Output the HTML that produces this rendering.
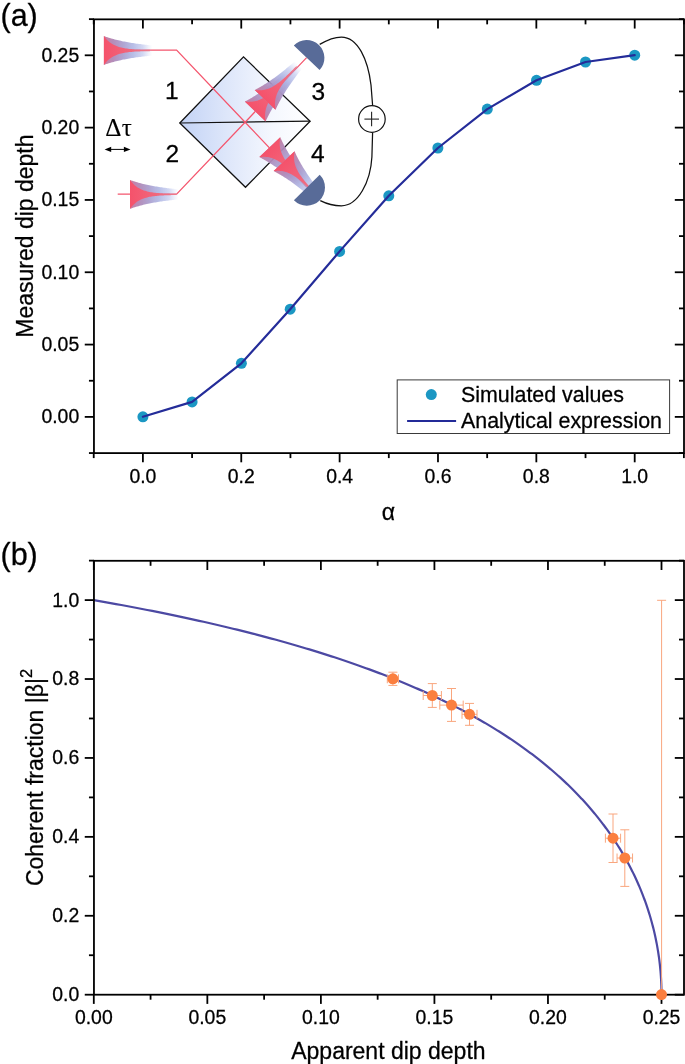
<!DOCTYPE html>
<html><head><meta charset="utf-8"><title>Figure</title>
<style>html,body{margin:0;padding:0;background:#fff;}svg{display:block;will-change:transform;}text{font-kerning:normal;stroke:#000;stroke-width:0.28px;stroke-linejoin:round;}</style>
</head><body>
<svg width="685" height="1064" viewBox="0 0 685 1064">
<defs>
<linearGradient id="bsg" gradientUnits="userSpaceOnUse" x1="180" y1="0" x2="310" y2="0">
 <stop offset="0" stop-color="#c3d3f6"/><stop offset="0.35" stop-color="#dde6fa"/><stop offset="0.7" stop-color="#f4f7fe"/><stop offset="1" stop-color="#ffffff"/>
</linearGradient>
<linearGradient id="hout" gradientUnits="userSpaceOnUse" x1="0" y1="0" x2="48.5" y2="0">
 <stop offset="0" stop-color="#c87da0" stop-opacity="1"/>
 <stop offset="0.2" stop-color="#b089b8" stop-opacity="0.95"/>
 <stop offset="0.4" stop-color="#a79bcd" stop-opacity="0.9"/>
 <stop offset="0.6" stop-color="#a0a8de" stop-opacity="0.75"/>
 <stop offset="0.8" stop-color="#a5b0e6" stop-opacity="0.5"/>
 <stop offset="0.93" stop-color="#aab6ea" stop-opacity="0.15"/>
 <stop offset="1" stop-color="#aab6ea" stop-opacity="0"/>
</linearGradient>
<linearGradient id="hin" gradientUnits="userSpaceOnUse" x1="0" y1="0" x2="46" y2="0">
 <stop offset="0" stop-color="#f5526b"/>
 <stop offset="0.5" stop-color="#f1647a"/>
 <stop offset="1" stop-color="#ee7a8c"/>
</linearGradient>

<g id="horn"><path d="M0,-14.4 L1.21,-13.98 L2.42,-13.57 L3.64,-13.18 L4.85,-12.8 L6.06,-12.43 L7.28,-12.07 L8.49,-11.73 L9.7,-11.4 L10.91,-11.08 L12.12,-10.77 L13.34,-10.47 L14.55,-10.18 L15.76,-9.9 L16.98,-9.63 L18.19,-9.37 L19.4,-9.12 L20.61,-8.88 L21.82,-8.65 L23.04,-8.42 L24.25,-8.2 L25.46,-7.99 L26.68,-7.79 L27.89,-7.59 L29.1,-7.4 L30.31,-7.22 L31.52,-7.04 L32.74,-6.87 L33.95,-6.7 L35.16,-6.54 L36.38,-6.39 L37.59,-6.24 L38.8,-6.09 L40.01,-5.95 L41.23,-5.82 L42.44,-5.69 L43.65,-5.56 L44.86,-5.44 L46.08,-5.32 L47.29,-5.21 L48.5,-5.1 L48.5,5.1 L47.29,5.21 L46.08,5.32 L44.86,5.44 L43.65,5.56 L42.44,5.69 L41.23,5.82 L40.01,5.95 L38.8,6.09 L37.59,6.24 L36.38,6.39 L35.16,6.54 L33.95,6.7 L32.74,6.87 L31.52,7.04 L30.31,7.22 L29.1,7.4 L27.89,7.59 L26.68,7.79 L25.46,7.99 L24.25,8.2 L23.04,8.42 L21.82,8.65 L20.61,8.88 L19.4,9.12 L18.19,9.37 L16.98,9.63 L15.76,9.9 L14.55,10.18 L13.34,10.47 L12.12,10.77 L10.91,11.08 L9.7,11.4 L8.49,11.73 L7.28,12.07 L6.06,12.43 L4.85,12.8 L3.64,13.18 L2.42,13.57 L1.21,13.98 L0,14.4Z" fill="url(#hout)"/><path d="M0,-14.4 L1.15,-12.89 L2.3,-11.54 L3.45,-10.34 L4.6,-9.27 L5.75,-8.32 L6.9,-7.47 L8.05,-6.71 L9.2,-6.04 L10.35,-5.44 L11.5,-4.9 L12.65,-4.42 L13.8,-4 L14.95,-3.62 L16.1,-3.28 L17.25,-2.98 L18.4,-2.71 L19.55,-2.47 L20.7,-2.25 L21.85,-2.06 L23,-1.89 L24.15,-1.74 L25.3,-1.61 L26.45,-1.49 L27.6,-1.38 L28.75,-1.28 L29.9,-1.2 L31.05,-1.12 L32.2,-1.06 L33.35,-1 L34.5,-0.94 L35.65,-0.89 L36.8,-0.85 L37.95,-0.81 L39.1,-0.78 L40.25,-0.75 L41.4,-0.72 L42.55,-0.7 L43.7,-0.68 L44.85,-0.66 L46,-0.64 L46,0.64 L44.85,0.66 L43.7,0.68 L42.55,0.7 L41.4,0.72 L40.25,0.75 L39.1,0.78 L37.95,0.81 L36.8,0.85 L35.65,0.89 L34.5,0.94 L33.35,1 L32.2,1.06 L31.05,1.12 L29.9,1.2 L28.75,1.28 L27.6,1.38 L26.45,1.49 L25.3,1.61 L24.15,1.74 L23,1.89 L21.85,2.06 L20.7,2.25 L19.55,2.47 L18.4,2.71 L17.25,2.98 L16.1,3.28 L14.95,3.62 L13.8,4 L12.65,4.42 L11.5,4.9 L10.35,5.44 L9.2,6.04 L8.05,6.71 L6.9,7.47 L5.75,8.32 L4.6,9.27 L3.45,10.34 L2.3,11.54 L1.15,12.89 L0,14.4Z" fill="url(#hin)"/></g>
</defs>
<polygon points="179.8,123.0 243.5,56.9 310.1,121.2 245.5,187.3" fill="url(#bsg)" stroke="#111" stroke-width="1.3" stroke-linejoin="miter"/>
<line x1="179.8" y1="123" x2="310.1" y2="121.2" stroke="#111" stroke-width="1.2" />
<polyline points="104,50.1 176.6,50.1 245.1,122.2 306.9,187.3" fill="none" stroke="#f4566e" stroke-width="1.25" stroke-linejoin="miter"/>
<polyline points="117.7,194.2 176.6,194.2 245.1,122.2 306.6,57.6" fill="none" stroke="#f4566e" stroke-width="1.25" stroke-linejoin="miter"/>
<use href="#horn" transform="translate(103.9,50.5) rotate(0)"/>
<use href="#horn" transform="translate(130,194.4) rotate(0)"/>
<use href="#horn" transform="translate(255.2,111.5) rotate(-46.41)"/>
<use href="#horn" transform="translate(265.1,99.9) rotate(-46.41)"/>
<use href="#horn" transform="translate(269.8,147.2) rotate(46.49)"/>
<use href="#horn" transform="translate(284.1,161.2) rotate(46.49)"/>
<path d="M293.8,45.4 A17.86,17.86 0 0 1 319.6,70.1 Z" fill="#586b98"/>
<path d="M319.7,174.7 A18.17,18.17 0 0 1 293.9,200.3 Z" fill="#586b98"/>
<path d="M319.7,44.4 C327,40 334,37 341.4,37 C358,37 368,60 371,85 L372.6,105.3" fill="none" stroke="#111" stroke-width="1.25"/>
<path d="M372.6,132.6 L371.9,157 C370.5,182 358,205.8 341.4,205.8 C334,205.8 327,204 320.3,200.6" fill="none" stroke="#111" stroke-width="1.25"/>
<circle cx="371.9" cy="119" r="13.3" fill="#fff" stroke="#111" stroke-width="1.2"/>
<line x1="364.4" y1="119.1" x2="379" y2="119.1" stroke="#222" stroke-width="1.1" />
<line x1="371.6" y1="111.7" x2="371.6" y2="126.2" stroke="#222" stroke-width="1.1" />
<text x="171.7" y="99.4" font-family='"Liberation Sans", sans-serif' font-size="24.5" text-anchor="middle" fill="#000" >1</text>
<text x="172.3" y="162.3" font-family='"Liberation Sans", sans-serif' font-size="24.5" text-anchor="middle" fill="#000" >2</text>
<text x="318.2" y="100" font-family='"Liberation Sans", sans-serif' font-size="24.5" text-anchor="middle" fill="#000" >3</text>
<text x="317.8" y="162" font-family='"Liberation Sans", sans-serif' font-size="24.5" text-anchor="middle" fill="#000" >4</text>
<text x="105.2" y="135.9" font-family='"Liberation Serif", serif' font-size="25.2" text-anchor="start" fill="#000" style="stroke-width:0.1px" letter-spacing="0.3">&#916;&#964;</text>
<line x1="108" y1="149.4" x2="127" y2="149.4" stroke="#000" stroke-width="1.0" />
<polygon points="104.6,149.4 111.2,146.7 111.2,152.1" fill="#000"/>
<polygon points="130.5,149.4 123.9,146.7 123.9,152.1" fill="#000"/>
<circle cx="142.9" cy="416.8" r="5.5" fill="#1b97c3"/>
<circle cx="192.1" cy="401.9" r="5.5" fill="#1b97c3"/>
<circle cx="241.4" cy="363.3" r="5.5" fill="#1b97c3"/>
<circle cx="290.2" cy="309.2" r="5.5" fill="#1b97c3"/>
<circle cx="339.6" cy="251.4" r="5.5" fill="#1b97c3"/>
<circle cx="388.8" cy="195.8" r="5.5" fill="#1b97c3"/>
<circle cx="437.9" cy="148.0" r="5.5" fill="#1b97c3"/>
<circle cx="487.3" cy="109.1" r="5.5" fill="#1b97c3"/>
<circle cx="536.5" cy="80.3" r="5.5" fill="#1b97c3"/>
<circle cx="585.5" cy="62.0" r="5.5" fill="#1b97c3"/>
<circle cx="634.7" cy="55.2" r="5.5" fill="#1b97c3"/>
<polyline points="142.9,416.8 192.1,401.9 241.4,363.3 290.2,309.2 339.6,251.4 388.8,195.8 437.9,148.0 487.3,109.1 536.5,80.3 585.5,62.0 634.7,55.2" fill="none" stroke="#242c99" stroke-width="2.2" stroke-linejoin="round" stroke-linecap="round"/>
<rect x="397.2" y="379.9" width="272.4" height="53.6" fill="#fff" stroke="#3a3a3a" stroke-width="1"/>
<circle cx="431.3" cy="394.6" r="5.5" fill="#1b97c3"/>
<line x1="407.1" y1="421" x2="456.1" y2="421" stroke="#232a98" stroke-width="2.0" />
<text x="461" y="401.6" font-family='"Liberation Sans", sans-serif' font-size="21.4" text-anchor="start" fill="#000" >Simulated values</text>
<text x="461" y="427.5" font-family='"Liberation Sans", sans-serif' font-size="21.4" text-anchor="start" fill="#000" >Analytical expression</text>
<rect x="93.95" y="19.35" width="590.05" height="433.75" fill="none" stroke="#000" stroke-width="1.8"/>
<line x1="142.9" y1="453.1" x2="142.9" y2="462.3" stroke="#000" stroke-width="1.8" />
<line x1="142.9" y1="19.35" x2="142.9" y2="28.55" stroke="#000" stroke-width="1.8" />
<line x1="241.26" y1="453.1" x2="241.26" y2="462.3" stroke="#000" stroke-width="1.8" />
<line x1="241.26" y1="19.35" x2="241.26" y2="28.55" stroke="#000" stroke-width="1.8" />
<line x1="339.62" y1="453.1" x2="339.62" y2="462.3" stroke="#000" stroke-width="1.8" />
<line x1="339.62" y1="19.35" x2="339.62" y2="28.55" stroke="#000" stroke-width="1.8" />
<line x1="437.98" y1="453.1" x2="437.98" y2="462.3" stroke="#000" stroke-width="1.8" />
<line x1="437.98" y1="19.35" x2="437.98" y2="28.55" stroke="#000" stroke-width="1.8" />
<line x1="536.34" y1="453.1" x2="536.34" y2="462.3" stroke="#000" stroke-width="1.8" />
<line x1="536.34" y1="19.35" x2="536.34" y2="28.55" stroke="#000" stroke-width="1.8" />
<line x1="634.7" y1="453.1" x2="634.7" y2="462.3" stroke="#000" stroke-width="1.8" />
<line x1="634.7" y1="19.35" x2="634.7" y2="28.55" stroke="#000" stroke-width="1.8" />
<line x1="93.72" y1="453.1" x2="93.72" y2="458.1" stroke="#000" stroke-width="1.8" />
<line x1="93.72" y1="19.35" x2="93.72" y2="24.35" stroke="#000" stroke-width="1.8" />
<line x1="192.08" y1="453.1" x2="192.08" y2="458.1" stroke="#000" stroke-width="1.8" />
<line x1="192.08" y1="19.35" x2="192.08" y2="24.35" stroke="#000" stroke-width="1.8" />
<line x1="290.44" y1="453.1" x2="290.44" y2="458.1" stroke="#000" stroke-width="1.8" />
<line x1="290.44" y1="19.35" x2="290.44" y2="24.35" stroke="#000" stroke-width="1.8" />
<line x1="388.8" y1="453.1" x2="388.8" y2="458.1" stroke="#000" stroke-width="1.8" />
<line x1="388.8" y1="19.35" x2="388.8" y2="24.35" stroke="#000" stroke-width="1.8" />
<line x1="487.16" y1="453.1" x2="487.16" y2="458.1" stroke="#000" stroke-width="1.8" />
<line x1="487.16" y1="19.35" x2="487.16" y2="24.35" stroke="#000" stroke-width="1.8" />
<line x1="585.52" y1="453.1" x2="585.52" y2="458.1" stroke="#000" stroke-width="1.8" />
<line x1="585.52" y1="19.35" x2="585.52" y2="24.35" stroke="#000" stroke-width="1.8" />
<line x1="683.88" y1="453.1" x2="683.88" y2="458.1" stroke="#000" stroke-width="1.8" />
<line x1="683.88" y1="19.35" x2="683.88" y2="24.35" stroke="#000" stroke-width="1.8" />
<line x1="84.75" y1="416.9" x2="93.95" y2="416.9" stroke="#000" stroke-width="1.8" />
<line x1="674.8" y1="416.9" x2="684" y2="416.9" stroke="#000" stroke-width="1.8" />
<line x1="84.75" y1="344.58" x2="93.95" y2="344.58" stroke="#000" stroke-width="1.8" />
<line x1="674.8" y1="344.58" x2="684" y2="344.58" stroke="#000" stroke-width="1.8" />
<line x1="84.75" y1="272.26" x2="93.95" y2="272.26" stroke="#000" stroke-width="1.8" />
<line x1="674.8" y1="272.26" x2="684" y2="272.26" stroke="#000" stroke-width="1.8" />
<line x1="84.75" y1="199.94" x2="93.95" y2="199.94" stroke="#000" stroke-width="1.8" />
<line x1="674.8" y1="199.94" x2="684" y2="199.94" stroke="#000" stroke-width="1.8" />
<line x1="84.75" y1="127.62" x2="93.95" y2="127.62" stroke="#000" stroke-width="1.8" />
<line x1="674.8" y1="127.62" x2="684" y2="127.62" stroke="#000" stroke-width="1.8" />
<line x1="84.75" y1="55.3" x2="93.95" y2="55.3" stroke="#000" stroke-width="1.8" />
<line x1="674.8" y1="55.3" x2="684" y2="55.3" stroke="#000" stroke-width="1.8" />
<line x1="88.95" y1="453.06" x2="93.95" y2="453.06" stroke="#000" stroke-width="1.8" />
<line x1="679" y1="453.06" x2="684" y2="453.06" stroke="#000" stroke-width="1.8" />
<line x1="88.95" y1="380.74" x2="93.95" y2="380.74" stroke="#000" stroke-width="1.8" />
<line x1="679" y1="380.74" x2="684" y2="380.74" stroke="#000" stroke-width="1.8" />
<line x1="88.95" y1="308.42" x2="93.95" y2="308.42" stroke="#000" stroke-width="1.8" />
<line x1="679" y1="308.42" x2="684" y2="308.42" stroke="#000" stroke-width="1.8" />
<line x1="88.95" y1="236.1" x2="93.95" y2="236.1" stroke="#000" stroke-width="1.8" />
<line x1="679" y1="236.1" x2="684" y2="236.1" stroke="#000" stroke-width="1.8" />
<line x1="88.95" y1="163.78" x2="93.95" y2="163.78" stroke="#000" stroke-width="1.8" />
<line x1="679" y1="163.78" x2="684" y2="163.78" stroke="#000" stroke-width="1.8" />
<line x1="88.95" y1="91.46" x2="93.95" y2="91.46" stroke="#000" stroke-width="1.8" />
<line x1="679" y1="91.46" x2="684" y2="91.46" stroke="#000" stroke-width="1.8" />
<line x1="88.95" y1="19.14" x2="93.95" y2="19.14" stroke="#000" stroke-width="1.8" />
<line x1="679" y1="19.14" x2="684" y2="19.14" stroke="#000" stroke-width="1.8" />
<text x="79.2" y="423.3" font-family='"Liberation Sans", sans-serif' font-size="19.4" text-anchor="end" fill="#000" >0.00</text>
<text x="79.2" y="350.98" font-family='"Liberation Sans", sans-serif' font-size="19.4" text-anchor="end" fill="#000" >0.05</text>
<text x="79.2" y="278.66" font-family='"Liberation Sans", sans-serif' font-size="19.4" text-anchor="end" fill="#000" >0.10</text>
<text x="79.2" y="206.34" font-family='"Liberation Sans", sans-serif' font-size="19.4" text-anchor="end" fill="#000" >0.15</text>
<text x="79.2" y="134.02" font-family='"Liberation Sans", sans-serif' font-size="19.4" text-anchor="end" fill="#000" >0.20</text>
<text x="79.2" y="61.7" font-family='"Liberation Sans", sans-serif' font-size="19.4" text-anchor="end" fill="#000" >0.25</text>
<text x="142.9" y="482.7" font-family='"Liberation Sans", sans-serif' font-size="19.4" text-anchor="middle" fill="#000" >0.0</text>
<text x="241.26" y="482.7" font-family='"Liberation Sans", sans-serif' font-size="19.4" text-anchor="middle" fill="#000" >0.2</text>
<text x="339.62" y="482.7" font-family='"Liberation Sans", sans-serif' font-size="19.4" text-anchor="middle" fill="#000" >0.4</text>
<text x="437.98" y="482.7" font-family='"Liberation Sans", sans-serif' font-size="19.4" text-anchor="middle" fill="#000" >0.6</text>
<text x="536.34" y="482.7" font-family='"Liberation Sans", sans-serif' font-size="19.4" text-anchor="middle" fill="#000" >0.8</text>
<text x="634.7" y="482.7" font-family='"Liberation Sans", sans-serif' font-size="19.4" text-anchor="middle" fill="#000" >1.0</text>
<text x="388.3" y="520" font-family='"Liberation Sans", sans-serif' font-size="23" text-anchor="middle" fill="#000" >&#945;</text>
<text transform="translate(32.5,236.1) rotate(-90)" font-family='"Liberation Sans", sans-serif' font-size="23" text-anchor="middle" fill="#000">Measured dip depth</text>
<text x="0.5" y="26" font-family='"Liberation Sans", sans-serif' font-size="30.5" text-anchor="start" fill="#000" >(a)</text>
<polyline points="93.8,600.1 99.44,601.09 105.01,602.07 110.52,603.06 115.95,604.05 121.32,605.03 126.63,606.02 131.87,607.01 137.05,607.99 142.17,608.98 147.22,609.97 152.22,610.95 157.16,611.94 162.04,612.92 166.86,613.91 171.63,614.9 176.34,615.88 181,616.87 185.61,617.86 190.16,618.84 194.67,619.83 199.12,620.82 203.52,621.8 207.88,622.79 212.18,623.78 216.44,624.76 220.65,625.75 224.82,626.74 228.94,627.72 233.01,628.71 237.04,629.69 241.03,630.68 244.98,631.67 248.88,632.65 252.74,633.64 256.56,634.63 260.35,635.61 264.09,636.6 267.79,637.59 271.46,638.57 275.08,639.56 278.67,640.55 282.22,641.53 285.74,642.52 289.22,643.51 292.67,644.49 296.08,645.48 299.45,646.47 302.8,647.45 306.11,648.44 309.38,649.42 312.63,650.41 315.84,651.4 319.02,652.38 322.17,653.37 325.29,654.36 328.37,655.34 331.43,656.33 334.46,657.32 337.46,658.3 340.43,659.29 343.38,660.28 346.29,661.26 349.18,662.25 352.04,663.24 354.87,664.22 357.68,665.21 360.46,666.2 363.21,667.18 365.94,668.17 368.64,669.15 371.32,670.14 373.97,671.13 376.6,672.11 379.21,673.1 381.79,674.09 384.35,675.07 386.88,676.06 389.39,677.05 391.88,678.03 394.35,679.02 396.79,680.01 399.21,680.99 401.62,681.98 403.99,682.97 406.35,683.95 408.69,684.94 411.01,685.93 413.3,686.91 415.58,687.9 417.84,688.88 420.07,689.87 422.29,690.86 424.49,691.84 426.67,692.83 428.83,693.82 430.97,694.8 433.09,695.79 435.2,696.78 437.29,697.76 439.36,698.75 441.41,699.74 443.44,700.72 445.46,701.71 447.46,702.7 449.44,703.68 451.41,704.67 453.36,705.66 455.29,706.64 457.21,707.63 459.11,708.62 461,709.6 462.87,710.59 464.72,711.57 466.56,712.56 468.38,713.55 470.19,714.53 471.99,715.52 473.76,716.51 475.53,717.49 477.28,718.48 479.02,719.47 480.74,720.45 482.44,721.44 484.14,722.43 485.82,723.41 487.48,724.4 489.14,725.39 490.78,726.37 492.4,727.36 494.02,728.35 495.62,729.33 497.2,730.32 498.78,731.3 500.34,732.29 501.89,733.28 503.43,734.26 504.95,735.25 506.46,736.24 507.96,737.22 509.45,738.21 510.93,739.2 512.4,740.18 513.85,741.17 515.29,742.16 516.72,743.14 518.14,744.13 519.55,745.12 520.95,746.1 522.33,747.09 523.71,748.08 525.07,749.06 526.43,750.05 527.77,751.03 529.1,752.02 530.43,753.01 531.74,753.99 533.04,754.98 534.33,755.97 535.61,756.95 536.88,757.94 538.14,758.93 539.4,759.91 540.64,760.9 541.87,761.89 543.09,762.87 544.31,763.86 545.51,764.85 546.7,765.83 547.89,766.82 549.07,767.81 550.23,768.79 551.39,769.78 552.54,770.76 553.68,771.75 554.81,772.74 555.93,773.72 557.05,774.71 558.15,775.7 559.25,776.68 560.33,777.67 561.41,778.66 562.48,779.64 563.55,780.63 564.6,781.62 565.65,782.6 566.69,783.59 567.72,784.58 568.74,785.56 569.75,786.55 570.76,787.54 571.76,788.52 572.75,789.51 573.73,790.49 574.71,791.48 575.67,792.47 576.63,793.45 577.59,794.44 578.53,795.43 579.47,796.41 580.4,797.4 581.32,798.39 582.24,799.37 583.15,800.36 584.05,801.35 584.94,802.33 585.83,803.32 586.71,804.31 587.59,805.29 588.45,806.28 589.31,807.27 590.17,808.25 591.01,809.24 591.85,810.22 592.68,811.21 593.51,812.2 594.33,813.18 595.14,814.17 595.95,815.16 596.75,816.14 597.54,817.13 598.33,818.12 599.11,819.1 599.89,820.09 600.66,821.08 601.42,822.06 602.18,823.05 602.93,824.04 603.67,825.02 604.41,826.01 605.14,827 605.87,827.98 606.59,828.97 607.3,829.95 608.01,830.94 608.71,831.93 609.41,832.91 610.1,833.9 610.78,834.89 611.46,835.87 612.13,836.86 612.8,837.85 613.46,838.83 614.12,839.82 614.77,840.81 615.42,841.79 616.06,842.78 616.69,843.77 617.32,844.75 617.95,845.74 618.56,846.73 619.18,847.71 619.79,848.7 620.39,849.68 620.99,850.67 621.58,851.66 622.16,852.64 622.75,853.63 623.32,854.62 623.89,855.6 624.46,856.59 625.02,857.58 625.58,858.56 626.13,859.55 626.67,860.54 627.22,861.52 627.75,862.51 628.28,863.5 628.81,864.48 629.33,865.47 629.85,866.46 630.36,867.44 630.87,868.43 631.37,869.41 631.86,870.4 632.36,871.39 632.85,872.37 633.33,873.36 633.81,874.35 634.28,875.33 634.75,876.32 635.21,877.31 635.67,878.29 636.13,879.28 636.58,880.27 637.03,881.25 637.47,882.24 637.91,883.23 638.34,884.21 638.77,885.2 639.19,886.19 639.61,887.17 640.02,888.16 640.44,889.14 640.84,890.13 641.24,891.12 641.64,892.1 642.03,893.09 642.42,894.08 642.81,895.06 643.19,896.05 643.56,897.04 643.93,898.02 644.3,899.01 644.67,900 645.02,900.98 645.38,901.97 645.73,902.96 646.08,903.94 646.42,904.93 646.76,905.92 647.09,906.9 647.42,907.89 647.75,908.87 648.07,909.86 648.39,910.85 648.7,911.83 649.01,912.82 649.32,913.81 649.62,914.79 649.91,915.78 650.21,916.77 650.5,917.75 650.78,918.74 651.06,919.73 651.34,920.71 651.62,921.7 651.89,922.69 652.15,923.67 652.41,924.66 652.67,925.64 652.93,926.63 653.18,927.62 653.42,928.6 653.67,929.59 653.9,930.58 654.14,931.56 654.37,932.55 654.6,933.54 654.82,934.52 655.04,935.51 655.26,936.5 655.47,937.48 655.68,938.47 655.88,939.46 656.08,940.44 656.28,941.43 656.47,942.42 656.66,943.4 656.85,944.39 657.03,945.38 657.21,946.36 657.38,947.35 657.55,948.33 657.72,949.32 657.88,950.31 658.04,951.29 658.2,952.28 658.35,953.27 658.5,954.25 658.65,955.24 658.79,956.23 658.93,957.21 659.06,958.2 659.19,959.19 659.32,960.17 659.44,961.16 659.56,962.15 659.68,963.13 659.79,964.12 659.9,965.11 660,966.09 660.11,967.08 660.2,968.06 660.3,969.05 660.39,970.04 660.48,971.02 660.56,972.01 660.64,973 660.72,973.98 660.79,974.97 660.86,975.96 660.92,976.94 660.99,977.93 661.05,978.92 661.1,979.9 661.15,980.89 661.2,981.88 661.24,982.86 661.29,983.85 661.32,984.84 661.36,985.82 661.39,986.81 661.41,987.79 661.44,988.78 661.46,989.77 661.47,990.75 661.48,991.74 661.49,992.73 661.5,993.71 661.5,994.7" fill="none" stroke="#4c49a3" stroke-width="2.2" stroke-linejoin="round"/>
<line x1="392.9" y1="672.2" x2="392.9" y2="685.4" stroke="#f9a67e" stroke-width="1.0" />
<line x1="388.4" y1="672.2" x2="397.4" y2="672.2" stroke="#f9a67e" stroke-width="1.0" />
<line x1="388.4" y1="685.4" x2="397.4" y2="685.4" stroke="#f9a67e" stroke-width="1.0" />
<line x1="387.3" y1="678.8" x2="398.5" y2="678.8" stroke="#f9a67e" stroke-width="1.0" />
<line x1="387.3" y1="674.3" x2="387.3" y2="683.3" stroke="#f9a67e" stroke-width="1.0" />
<line x1="398.5" y1="674.3" x2="398.5" y2="683.3" stroke="#f9a67e" stroke-width="1.0" />
<line x1="432.3" y1="683.6" x2="432.3" y2="707.4" stroke="#f9a67e" stroke-width="1.0" />
<line x1="427.8" y1="683.6" x2="436.8" y2="683.6" stroke="#f9a67e" stroke-width="1.0" />
<line x1="427.8" y1="707.4" x2="436.8" y2="707.4" stroke="#f9a67e" stroke-width="1.0" />
<line x1="423.2" y1="695.5" x2="441.4" y2="695.5" stroke="#f9a67e" stroke-width="1.0" />
<line x1="423.2" y1="691" x2="423.2" y2="700" stroke="#f9a67e" stroke-width="1.0" />
<line x1="441.4" y1="691" x2="441.4" y2="700" stroke="#f9a67e" stroke-width="1.0" />
<line x1="451.5" y1="688.5" x2="451.5" y2="721.4" stroke="#f9a67e" stroke-width="1.0" />
<line x1="447" y1="688.5" x2="456" y2="688.5" stroke="#f9a67e" stroke-width="1.0" />
<line x1="447" y1="721.4" x2="456" y2="721.4" stroke="#f9a67e" stroke-width="1.0" />
<line x1="439.8" y1="705.1" x2="463.2" y2="705.1" stroke="#f9a67e" stroke-width="1.0" />
<line x1="439.8" y1="700.6" x2="439.8" y2="709.6" stroke="#f9a67e" stroke-width="1.0" />
<line x1="463.2" y1="700.6" x2="463.2" y2="709.6" stroke="#f9a67e" stroke-width="1.0" />
<line x1="469.5" y1="703.4" x2="469.5" y2="725.3" stroke="#f9a67e" stroke-width="1.0" />
<line x1="465" y1="703.4" x2="474" y2="703.4" stroke="#f9a67e" stroke-width="1.0" />
<line x1="465" y1="725.3" x2="474" y2="725.3" stroke="#f9a67e" stroke-width="1.0" />
<line x1="462" y1="714.3" x2="477" y2="714.3" stroke="#f9a67e" stroke-width="1.0" />
<line x1="462" y1="709.8" x2="462" y2="718.8" stroke="#f9a67e" stroke-width="1.0" />
<line x1="477" y1="709.8" x2="477" y2="718.8" stroke="#f9a67e" stroke-width="1.0" />
<line x1="613" y1="814" x2="613" y2="862.5" stroke="#f9a67e" stroke-width="1.0" />
<line x1="608.5" y1="814" x2="617.5" y2="814" stroke="#f9a67e" stroke-width="1.0" />
<line x1="608.5" y1="862.5" x2="617.5" y2="862.5" stroke="#f9a67e" stroke-width="1.0" />
<line x1="605.4" y1="838.2" x2="620.6" y2="838.2" stroke="#f9a67e" stroke-width="1.0" />
<line x1="605.4" y1="833.7" x2="605.4" y2="842.7" stroke="#f9a67e" stroke-width="1.0" />
<line x1="620.6" y1="833.7" x2="620.6" y2="842.7" stroke="#f9a67e" stroke-width="1.0" />
<line x1="624.8" y1="829.8" x2="624.8" y2="886.4" stroke="#f9a67e" stroke-width="1.0" />
<line x1="620.3" y1="829.8" x2="629.3" y2="829.8" stroke="#f9a67e" stroke-width="1.0" />
<line x1="620.3" y1="886.4" x2="629.3" y2="886.4" stroke="#f9a67e" stroke-width="1.0" />
<line x1="617.05" y1="858" x2="632.55" y2="858" stroke="#f9a67e" stroke-width="1.0" />
<line x1="617.05" y1="853.5" x2="617.05" y2="862.5" stroke="#f9a67e" stroke-width="1.0" />
<line x1="632.55" y1="853.5" x2="632.55" y2="862.5" stroke="#f9a67e" stroke-width="1.0" />
<line x1="661.6" y1="600.3" x2="661.6" y2="994.7" stroke="#f9a67e" stroke-width="1.0" />
<line x1="657.1" y1="600.3" x2="666.1" y2="600.3" stroke="#f9a67e" stroke-width="1.0" />
<circle cx="392.9" cy="678.8" r="5.5" fill="#fb7f3f"/>
<circle cx="432.3" cy="695.5" r="5.5" fill="#fb7f3f"/>
<circle cx="451.5" cy="705.1" r="5.5" fill="#fb7f3f"/>
<circle cx="469.5" cy="714.3" r="5.5" fill="#fb7f3f"/>
<circle cx="613.0" cy="838.2" r="5.5" fill="#fb7f3f"/>
<circle cx="624.8" cy="858.0" r="5.5" fill="#fb7f3f"/>
<rect x="93.95" y="560.8" width="590.05" height="433.9" fill="none" stroke="#000" stroke-width="1.8"/>
<line x1="93.8" y1="994.7" x2="93.8" y2="1003.9" stroke="#000" stroke-width="1.8" />
<line x1="93.8" y1="560.8" x2="93.8" y2="570" stroke="#000" stroke-width="1.8" />
<line x1="207.34" y1="994.7" x2="207.34" y2="1003.9" stroke="#000" stroke-width="1.8" />
<line x1="207.34" y1="560.8" x2="207.34" y2="570" stroke="#000" stroke-width="1.8" />
<line x1="320.88" y1="994.7" x2="320.88" y2="1003.9" stroke="#000" stroke-width="1.8" />
<line x1="320.88" y1="560.8" x2="320.88" y2="570" stroke="#000" stroke-width="1.8" />
<line x1="434.42" y1="994.7" x2="434.42" y2="1003.9" stroke="#000" stroke-width="1.8" />
<line x1="434.42" y1="560.8" x2="434.42" y2="570" stroke="#000" stroke-width="1.8" />
<line x1="547.96" y1="994.7" x2="547.96" y2="1003.9" stroke="#000" stroke-width="1.8" />
<line x1="547.96" y1="560.8" x2="547.96" y2="570" stroke="#000" stroke-width="1.8" />
<line x1="661.5" y1="994.7" x2="661.5" y2="1003.9" stroke="#000" stroke-width="1.8" />
<line x1="661.5" y1="560.8" x2="661.5" y2="570" stroke="#000" stroke-width="1.8" />
<line x1="150.57" y1="994.7" x2="150.57" y2="999.7" stroke="#000" stroke-width="1.8" />
<line x1="150.57" y1="560.8" x2="150.57" y2="565.8" stroke="#000" stroke-width="1.8" />
<line x1="264.11" y1="994.7" x2="264.11" y2="999.7" stroke="#000" stroke-width="1.8" />
<line x1="264.11" y1="560.8" x2="264.11" y2="565.8" stroke="#000" stroke-width="1.8" />
<line x1="377.65" y1="994.7" x2="377.65" y2="999.7" stroke="#000" stroke-width="1.8" />
<line x1="377.65" y1="560.8" x2="377.65" y2="565.8" stroke="#000" stroke-width="1.8" />
<line x1="491.19" y1="994.7" x2="491.19" y2="999.7" stroke="#000" stroke-width="1.8" />
<line x1="491.19" y1="560.8" x2="491.19" y2="565.8" stroke="#000" stroke-width="1.8" />
<line x1="604.73" y1="994.7" x2="604.73" y2="999.7" stroke="#000" stroke-width="1.8" />
<line x1="604.73" y1="560.8" x2="604.73" y2="565.8" stroke="#000" stroke-width="1.8" />
<line x1="84.75" y1="994.7" x2="93.95" y2="994.7" stroke="#000" stroke-width="1.8" />
<line x1="674.8" y1="994.7" x2="684" y2="994.7" stroke="#000" stroke-width="1.8" />
<line x1="84.75" y1="915.78" x2="93.95" y2="915.78" stroke="#000" stroke-width="1.8" />
<line x1="674.8" y1="915.78" x2="684" y2="915.78" stroke="#000" stroke-width="1.8" />
<line x1="84.75" y1="836.86" x2="93.95" y2="836.86" stroke="#000" stroke-width="1.8" />
<line x1="674.8" y1="836.86" x2="684" y2="836.86" stroke="#000" stroke-width="1.8" />
<line x1="84.75" y1="757.94" x2="93.95" y2="757.94" stroke="#000" stroke-width="1.8" />
<line x1="674.8" y1="757.94" x2="684" y2="757.94" stroke="#000" stroke-width="1.8" />
<line x1="84.75" y1="679.02" x2="93.95" y2="679.02" stroke="#000" stroke-width="1.8" />
<line x1="674.8" y1="679.02" x2="684" y2="679.02" stroke="#000" stroke-width="1.8" />
<line x1="84.75" y1="600.1" x2="93.95" y2="600.1" stroke="#000" stroke-width="1.8" />
<line x1="674.8" y1="600.1" x2="684" y2="600.1" stroke="#000" stroke-width="1.8" />
<line x1="88.95" y1="955.24" x2="93.95" y2="955.24" stroke="#000" stroke-width="1.8" />
<line x1="679" y1="955.24" x2="684" y2="955.24" stroke="#000" stroke-width="1.8" />
<line x1="88.95" y1="876.32" x2="93.95" y2="876.32" stroke="#000" stroke-width="1.8" />
<line x1="679" y1="876.32" x2="684" y2="876.32" stroke="#000" stroke-width="1.8" />
<line x1="88.95" y1="797.4" x2="93.95" y2="797.4" stroke="#000" stroke-width="1.8" />
<line x1="679" y1="797.4" x2="684" y2="797.4" stroke="#000" stroke-width="1.8" />
<line x1="88.95" y1="718.48" x2="93.95" y2="718.48" stroke="#000" stroke-width="1.8" />
<line x1="679" y1="718.48" x2="684" y2="718.48" stroke="#000" stroke-width="1.8" />
<line x1="88.95" y1="639.56" x2="93.95" y2="639.56" stroke="#000" stroke-width="1.8" />
<line x1="679" y1="639.56" x2="684" y2="639.56" stroke="#000" stroke-width="1.8" />
<line x1="88.95" y1="560.64" x2="93.95" y2="560.64" stroke="#000" stroke-width="1.8" />
<line x1="679" y1="560.64" x2="684" y2="560.64" stroke="#000" stroke-width="1.8" />
<circle cx="661.5" cy="994.6" r="5.5" fill="#fb7f3f"/>
<text x="79.2" y="1001.1" font-family='"Liberation Sans", sans-serif' font-size="19.4" text-anchor="end" fill="#000" >0.0</text>
<text x="79.2" y="922.18" font-family='"Liberation Sans", sans-serif' font-size="19.4" text-anchor="end" fill="#000" >0.2</text>
<text x="79.2" y="843.26" font-family='"Liberation Sans", sans-serif' font-size="19.4" text-anchor="end" fill="#000" >0.4</text>
<text x="79.2" y="764.34" font-family='"Liberation Sans", sans-serif' font-size="19.4" text-anchor="end" fill="#000" >0.6</text>
<text x="79.2" y="685.42" font-family='"Liberation Sans", sans-serif' font-size="19.4" text-anchor="end" fill="#000" >0.8</text>
<text x="79.2" y="606.5" font-family='"Liberation Sans", sans-serif' font-size="19.4" text-anchor="end" fill="#000" >1.0</text>
<text x="93.8" y="1024.4" font-family='"Liberation Sans", sans-serif' font-size="19.4" text-anchor="middle" fill="#000" >0.00</text>
<text x="207.34" y="1024.4" font-family='"Liberation Sans", sans-serif' font-size="19.4" text-anchor="middle" fill="#000" >0.05</text>
<text x="320.88" y="1024.4" font-family='"Liberation Sans", sans-serif' font-size="19.4" text-anchor="middle" fill="#000" >0.10</text>
<text x="434.42" y="1024.4" font-family='"Liberation Sans", sans-serif' font-size="19.4" text-anchor="middle" fill="#000" >0.15</text>
<text x="547.96" y="1024.4" font-family='"Liberation Sans", sans-serif' font-size="19.4" text-anchor="middle" fill="#000" >0.20</text>
<text x="661.5" y="1024.4" font-family='"Liberation Sans", sans-serif' font-size="19.4" text-anchor="middle" fill="#000" >0.25</text>
<text x="388.4" y="1059.4" font-family='"Liberation Sans", sans-serif' font-size="23" text-anchor="middle" fill="#000" >Apparent dip depth</text>
<text transform="translate(42.9,777.5) rotate(-90)" font-family='"Liberation Sans", sans-serif' font-size="23" text-anchor="middle" fill="#000">Coherent fraction |&#946;|<tspan font-size="16.5" dy="-10.8">2</tspan></text>
<text x="0.5" y="565.4" font-family='"Liberation Sans", sans-serif' font-size="30.5" text-anchor="start" fill="#000" >(b)</text>
</svg>
</body></html>
